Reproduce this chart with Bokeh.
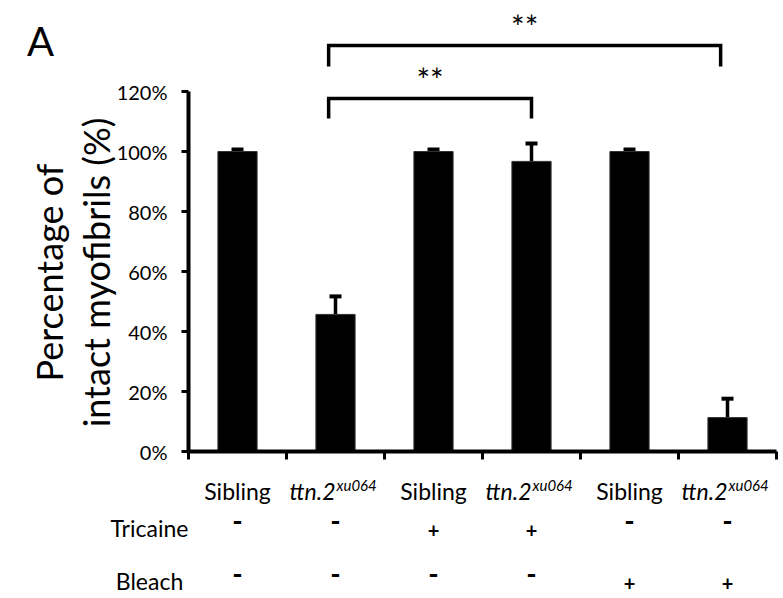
import math
from bokeh.plotting import figure
from bokeh.models import (ColumnDataSource, Whisker, TeeHead, FixedTicker,
                          PrintfTickFormatter, Label, LinearAxis, Range1d)
from bokeh.embed import file_html
from bokeh.resources import INLINE

# ---------------- data ----------------
genotypes = ["Sibling", "ttn.2", "Sibling", "ttn.2", "Sibling", "ttn.2"]
superscripts = ["", "xu064", "", "xu064", "", "xu064"]
tricaine = ["-", "-", "+", "+", "-", "-"]
bleach = ["-", "-", "-", "-", "+", "+"]
values = [100.0, 45.7, 100.0, 96.7, 100.0, 11.3]   # percent intact myofibrils
errors = [0.7, 6.0, 0.7, 6.0, 0.7, 6.3]
y_ticks = [0, 20, 40, 60, 80, 100, 120]
x_ticks = [0, 1, 2, 3, 4, 5, 6]
# significance brackets: start / end bar position, bracket top (%), drop end (%)
br_x0 = [1.43, 1.43]
br_x1 = [3.50, 5.43]
br_top = [117.7, 135.3]
br_drop = [111.0, 128.3]
br_text = ["**", "**"]

FONT = "Lato"
W, H = 783, 598
# layout: axis origin in canvas pixels and pixel scale
OX, OY = 188.0, 451.0
PX_PER_CAT, PX_PER_PCT = 98.0, 3.0


def X(px):
    return (px - OX) / PX_PER_CAT


def Y(py):
    return (OY - py) / PX_PER_PCT


centers = [i + 0.5 for i in range(len(values))]
uppers = [v + e for v, e in zip(values, errors)]
src = ColumnDataSource(dict(x=centers, top=values, upper=uppers))

p = figure(width=W, height=H, x_range=Range1d(X(0), X(W)),
           y_range=Range1d(Y(H), Y(0)),
           output_backend="svg", toolbar_location=None,
           x_axis_location=None, y_axis_location=None,
           min_border_left=0, min_border_right=0, min_border_top=0,
           min_border_bottom=0)
p.outline_line_color = None
p.xgrid.visible = False
p.ygrid.visible = False

# bars
p.vbar(x="x", top="top", width=0.4, source=src, fill_color="black",
       line_color="#333333", line_width=1)

# error bars (upper only)
wh = Whisker(source=src, base="x", upper="upper", lower="top",
             lower_head=None,
             upper_head=TeeHead(size=12, line_width=4, line_color="black"),
             line_width=3.5, line_color="black")
p.add_layout(wh)

# axes, fixed at the data origin
yax = LinearAxis(fixed_location=0, bounds=(0, 120),
                 ticker=FixedTicker(ticks=y_ticks),
                 formatter=PrintfTickFormatter(format="%d%%"))
yax.major_label_text_font = FONT
yax.major_label_text_font_size = "20px"
yax.major_label_text_color = "black"
yax.major_tick_out = 7
yax.major_tick_in = 0
yax.minor_tick_out = 0
yax.minor_tick_in = 0
yax.axis_line_width = 4
yax.major_tick_line_width = 3
yax.major_label_standoff = 14
p.add_layout(yax, "left")

xax = LinearAxis(fixed_location=0, bounds=(0, 6),
                 ticker=FixedTicker(ticks=x_ticks))
xax.major_label_overrides = {t: "" for t in x_ticks}
xax.major_tick_out = 8
xax.major_tick_in = 0
xax.minor_tick_out = 0
xax.minor_tick_in = 0
xax.axis_line_width = 4
xax.major_tick_line_width = 3
p.add_layout(xax, "below")


def label(x, y, text, size, style="normal", align="center", angle=0.0,
          xo=0, yo=0):
    p.add_layout(Label(x=x, y=y, x_offset=xo, y_offset=yo, text=text,
                       angle=angle, text_font=FONT, text_font_size=size,
                       text_font_style=style, text_color="black",
                       text_align=align, text_baseline="middle"))


# significance brackets
for x0, x1, t, d, s in zip(br_x0, br_x1, br_top, br_drop, br_text):
    p.line([x0, x0, x1, x1], [d, t, t, d], line_color="black", line_width=3.5,
           line_join="miter")
    label((x0 + x1) / 2, t, s, "32px", yo=19)

# category labels
for c, g, sup in zip(centers, genotypes, superscripts):
    if sup:
        label(c, Y(490), g, "23px", style="italic", align="right", xo=0)
        label(c, Y(484), sup, "15px", style="italic", align="left", xo=1)
    else:
        label(c, Y(490), g, "23px")

# treatment rows
rows = [("Tricaine", tricaine, 527), ("Bleach", bleach, 580)]
for name, signs, row_y in rows:
    label(X(149), Y(row_y), name, "23px")
    for c, s in zip(centers, signs):
        if s == "-":
            label(c, Y(row_y - 7), s, "28px", style="bold")
        else:
            label(c, Y(row_y + 3), s, "20px", style="bold")

# y axis title (two lines)
label(X(48), Y(272), "Percentage of", "36px", angle=math.pi / 2)
label(X(95), Y(272), "intact myofibrils (%)", "36px", angle=math.pi / 2)

# panel letter
label(X(40), Y(40), "A", "40px")

open("out.html", "w").write(file_html(p, INLINE))
